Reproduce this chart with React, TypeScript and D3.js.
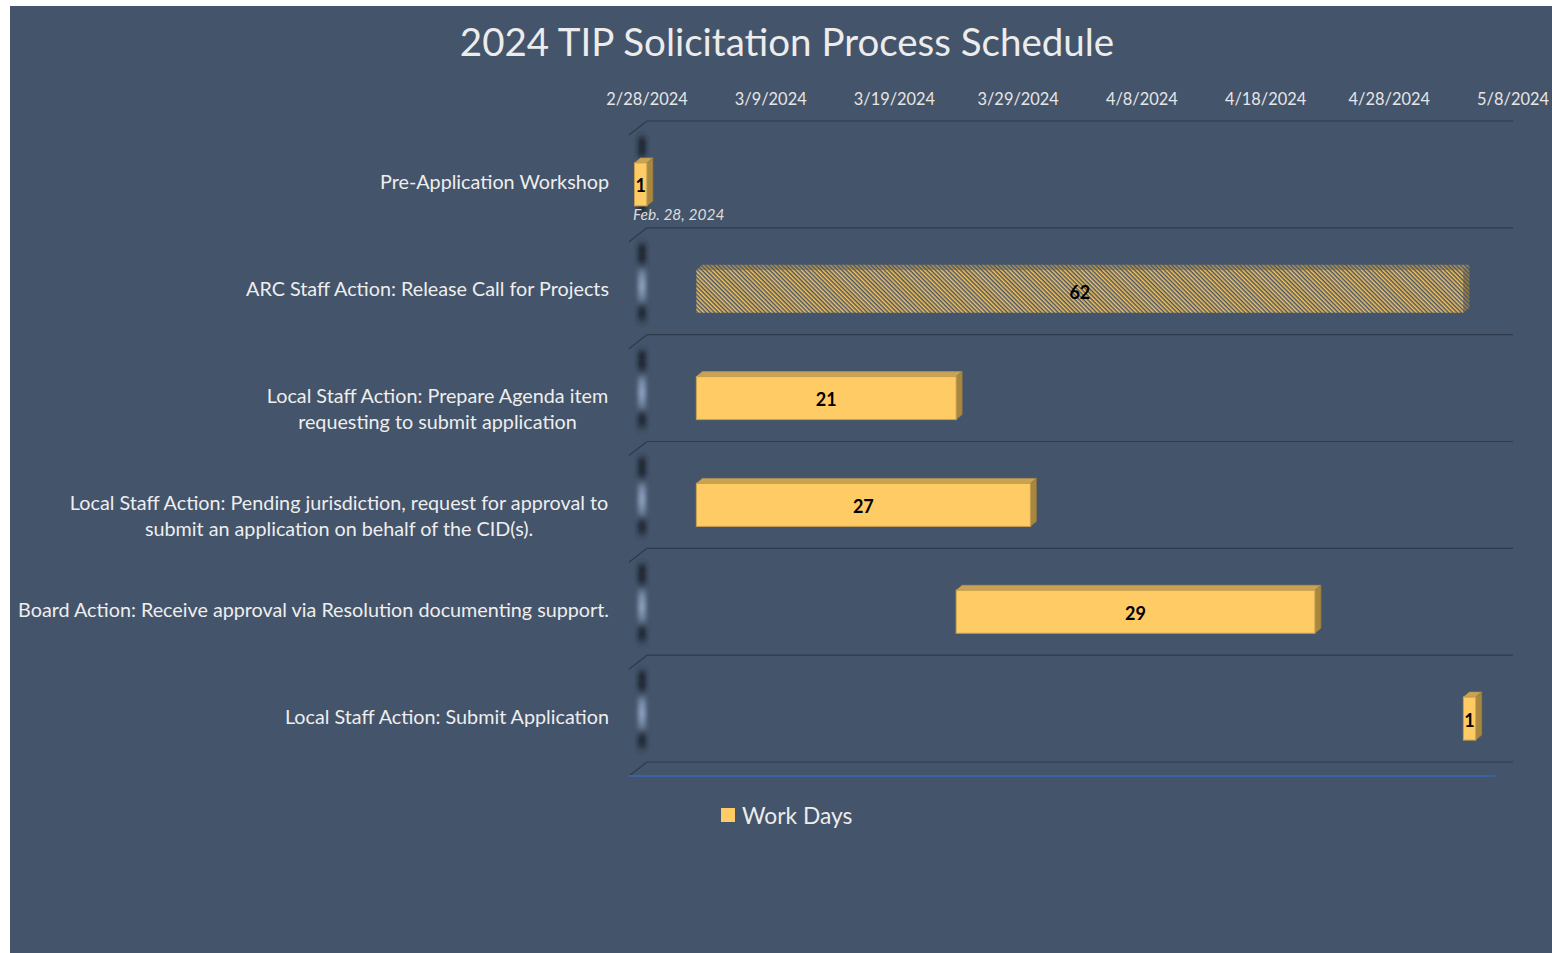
import React from "react";
import * as d3 from "d3";

const title = "2024 TIP Solicitation Process Schedule";
const categories: string[][] = [
  ["Pre-Application Workshop"],
  ["ARC Staff Action: Release Call for Projects"],
  ["Local Staff Action: Prepare Agenda item", "requesting to submit application"],
  ["Local Staff Action: Pending jurisdiction, request for approval to", "submit an application on behalf of the CID(s)."],
  ["Board Action: Receive approval via Resolution documenting support."],
  ["Local Staff Action: Submit Application"],
];
const startDates = ["2024-02-28", "2024-03-04", "2024-03-04", "2024-03-04", "2024-03-25", "2024-05-05"];
const workDays = [1, 62, 21, 27, 29, 1];
const hatched = [false, true, false, false, false, false];
const tickLabels = ["2/28/2024", "3/9/2024", "3/19/2024", "3/29/2024", "4/8/2024", "4/18/2024", "4/28/2024", "5/8/2024"];
const annotation = "Feb. 28, 2024";
const legendLabel = "Work Days";

const W = 1552, H = 953;
const FONT = "Lato, 'Open Sans', sans-serif";
const BG = "#44546a";
const DX = 18, DY = -14; // depth of the 3D floor/wall
const BAR_OFF_X = 5.5, BAR_OFF_Y = -4; // bar front face offset from front plane
const BDX = 6, BDY = -5; // bar depth
const CAT_SIZE = 19.75;

const parseTick = (s: string) => {
  const [m, d, y] = s.split("/").map(Number);
  return new Date(Date.UTC(y, m - 1, d));
};
const parseISO = d3.utcParse("%Y-%m-%d");

let ctx: CanvasRenderingContext2D | null = null;
function measure(text: string, size: number): number {
  if (!ctx && typeof document !== "undefined") ctx = document.createElement("canvas").getContext("2d");
  if (!ctx) return text.length * size * 0.5;
  ctx.font = `${size}px Lato`;
  return ctx.measureText(text).width;
}

export default function App() {
  const ticks = tickLabels.map(parseTick);
  const xBack = d3.scaleUtc().domain([ticks[0], ticks[ticks.length - 1]]).range([647, 1513]);
  const xFront = (d: Date) => xBack(d) - DX;
  const yBack = d3.scaleBand<number>().domain(categories.map((_, i) => i)).range([121, 762]).padding(0);
  const bw = yBack.bandwidth();
  const barH = 43;
  const boundaries = d3.range(categories.length + 1).map((i) => 121 + i * bw);
  const [x0, x1] = xBack.range();

  return (
    <svg width={W} height={H} style={{ position: "absolute", left: 0, top: 0, display: "block" }}>
      <defs>
        <pattern id="hatchFront" width={3} height={3} patternUnits="userSpaceOnUse" patternTransform="rotate(-45)">
          <rect width={3} height={3} fill="#4a5568" />
          <rect width={1.5} height={3} fill="#f5c55e" />
        </pattern>
        <pattern id="hatchTop" width={3} height={3} patternUnits="userSpaceOnUse" patternTransform="rotate(-45)">
          <rect width={3} height={3} fill="#4a5568" />
          <rect width={1.5} height={3} fill="#b8974f" />
        </pattern>
        <pattern id="hatchSide" width={3} height={3} patternUnits="userSpaceOnUse" patternTransform="rotate(-45)">
          <rect width={3} height={3} fill="#4a5568" />
          <rect width={1.5} height={3} fill="#a4843f" />
        </pattern>
        <linearGradient id="wallGrad" x1="0" y1="0" x2="0" y2="1">
          <stop offset="0" stopColor="#2a3444" stopOpacity={0} />
          <stop offset="0.08" stopColor="#161d28" stopOpacity={0.8} />
          <stop offset="0.24" stopColor="#161d28" stopOpacity={0.85} />
          <stop offset="0.4" stopColor="#7488a6" />
          <stop offset="0.55" stopColor="#8ea2bf" />
          <stop offset="0.7" stopColor="#6a7d9a" />
          <stop offset="0.82" stopColor="#161d28" stopOpacity={0.85} />
          <stop offset="0.94" stopColor="#161d28" stopOpacity={0.6} />
          <stop offset="1" stopColor="#2a3444" stopOpacity={0} />
        </linearGradient>
        <filter id="blur" x="-1" y="-0.2" width="3" height="1.4">
          <feGaussianBlur stdDeviation="2 2.5" />
        </filter>
      </defs>
      <rect x={10} y={6} width={W - 10} height={H - 6} fill={BG} />

      <text x={787} y={41} textAnchor="middle" dominantBaseline="central" fontFamily={FONT} fontSize={38.5} fill="#ececec">
        {title}
      </text>

      {/* axis labels */}
      {ticks.map((t, i) => (
        <text key={i} x={xBack(t)} y={98} textAnchor="middle" dominantBaseline="central" fontFamily={FONT} fontSize={16.4} fill="#e6e6e6">
          {tickLabels[i]}
        </text>
      ))}

      {/* wall shading */}
      {categories.map((_, i) => {
        const top = (yBack(i) as number) + 12;
        const h = bw - 22;
        return <rect key={i} x={638} y={top} width={8} height={h} fill="url(#wallGrad)" filter="url(#blur)" />;
      })}

      {/* gridlines */}
      {boundaries.map((y, i) => (
        <g key={i} stroke="#2f3a4a" strokeWidth={1.2}>
          <line x1={x0} x2={x1} y1={y} y2={y} />
          <line x1={x0 - DX} x2={x0} y1={y - DY} y2={y} />
        </g>
      ))}
      <line x1={x0 - DX} x2={x1 - DX} y1={762 - DY} y2={762 - DY} stroke="#3d62a3" strokeWidth={2} />

      {/* bars */}
      {workDays.map((v, i) => {
        const s = parseISO(startDates[i]) as Date;
        const e = d3.utcDay.offset(s, v);
        const fx = xFront(s) + BAR_OFF_X;
        const fw = xFront(e) - xFront(s);
        const cy = (yBack(i) as number) + bw / 2 - DY + BAR_OFF_Y;
        const fy = cy - barH / 2;
        const top = `M${fx},${fy} L${fx + BDX},${fy + BDY} L${fx + fw + BDX},${fy + BDY} L${fx + fw},${fy} Z`;
        const side = `M${fx + fw},${fy} L${fx + fw + BDX},${fy + BDY} L${fx + fw + BDX},${fy + barH + BDY} L${fx + fw},${fy + barH} Z`;
        const h = hatched[i];
        return (
          <g key={i}>
            <path d={top} fill={h ? "url(#hatchTop)" : "#c9a254"} stroke={h ? "none" : "#b8944a"} strokeWidth={0.6} />
            <path d={side} fill={h ? "url(#hatchSide)" : "#a8873f"} stroke={h ? "none" : "#9a7a38"} strokeWidth={0.6} />
            <rect x={fx} y={fy} width={fw} height={barH} fill={h ? "url(#hatchFront)" : "#fecb65"} stroke={h ? "none" : "#c9a052"} strokeWidth={1} />
            <text x={fx + fw / 2} y={cy + 1} textAnchor="middle" dominantBaseline="central" fontFamily={FONT} fontWeight="bold" fontSize={18} fill="#000">
              {v}
            </text>
          </g>
        );
      })}

      {/* annotation */}
      <text x={633} y={214} dominantBaseline="central" fontFamily={FONT} fontStyle="italic" fontSize={15.5} fill="#dcdcdc">
        {annotation}
      </text>

      {/* category labels: lines centred with each other, block right-aligned */}
      {categories.map((lines, i) => {
        const cy = (yBack(i) as number) + bw / 2 - DY - 6.5;
        const widths = lines.map((l) => measure(l, CAT_SIZE));
        const maxW = Math.max(...widths);
        const cx = 609 - maxW / 2;
        return (
          <g key={i}>
            {lines.map((l, j) => (
              <text key={j} x={lines.length === 1 ? 609 : cx} y={cy + j * 26}
                textAnchor={lines.length === 1 ? "end" : "middle"}
                dominantBaseline="central" fontFamily={FONT} fontSize={CAT_SIZE} fill="#eeeeee">
                {l}
              </text>
            ))}
          </g>
        );
      })}

      {/* legend */}
      <rect x={721} y={808} width={14} height={14} fill="#fecb65" />
      <text x={742} y={815} dominantBaseline="central" fontFamily={FONT} fontSize={22.8} fill="#ececec">
        {legendLabel}
      </text>
    </svg>
  );
}
